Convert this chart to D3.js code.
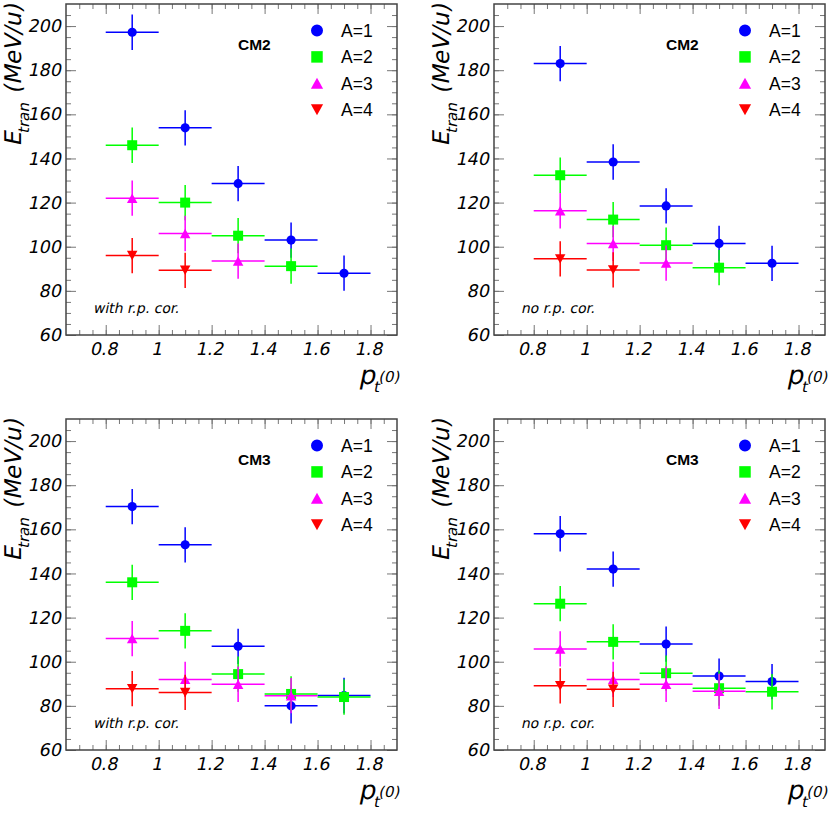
<!DOCTYPE html>
<html>
<head>
<meta charset="utf-8">
<script src="https://cdn.jsdelivr.net/npm/d3@7.9.0/dist/d3.min.js"></script>
<style>
  body { margin: 0; background: #fff; }
  svg { display: block; }
</style>
</head>
<body>
<svg id="chart" width="830" height="814"></svg>
<script>
// bins in p_t^(0), each ±0.1 wide, E_tran error ±8 MeV/u
const ptBins = [0.9, 1.1, 1.3, 1.5, 1.7];
const ptHalfWidth = 0.1;
const eError = 8;

const seriesNames = ["A=1", "A=2", "A=3", "A=4"];

// one list per A, values in MeV/u
const cm2WithCor = [
  [197.2, 153.9, 128.6, 103, 88],
  [146, 120, 105, 91.2],
  [122, 106, 93.5],
  [96, 89.3]
];
const cm2NoCor = [
  [183, 138.4, 118.5, 101.5, 92.5],
  [132.4, 112.3, 100.7, 90.5],
  [116.3, 101.5, 92.6],
  [94.5, 89.5]
];
const cm3WithCor = [
  [170.3, 153, 107, 80, 84.7],
  [136, 114, 94.4, 85.4, 84],
  [110.5, 92, 89.8, 84.6],
  [87.8, 86.1]
];
const cm3NoCor = [
  [158, 142, 108, 93.5, 91],
  [126.3, 109, 94.8, 88, 86.4],
  [105.8, 92, 89.8, 86.6],
  [89.1, 87.5]
];

const panelTitles = ["CM2", "CM2", "CM3", "CM3"];
const panelNotes = ["with r.p. cor.", "no r.p. cor.", "with r.p. cor.", "no r.p. cor."];
const xTicks = [0.8, 1, 1.2, 1.4, 1.6, 1.8];
const yTicks = [60, 80, 100, 120, 140, 160, 180, 200];

const colors = ["#0000ff", "#00ff00", "#ff00ff", "#ff0000"];

// ROOT style markers: triangles centred on their bounding box
const triUp = {
  draw(ctx, size) {
    const s = Math.sqrt(size), h = s * 0.9;
    ctx.moveTo(0, -h / 2); ctx.lineTo(s / 2, h / 2); ctx.lineTo(-s / 2, h / 2); ctx.closePath();
  }
};
const triDown = {
  draw(ctx, size) {
    const s = Math.sqrt(size), h = s * 0.9;
    ctx.moveTo(0, h / 2); ctx.lineTo(s / 2, -h / 2); ctx.lineTo(-s / 2, -h / 2); ctx.closePath();
  }
};
const markerTypes = [d3.symbolCircle, d3.symbolSquare, triUp, triDown];
const markerSizes = [66, 100, 110, 110];
const legendSizes = [113, 132, 150, 150];

const W = 331, H = 331;
const panels = [
  { data: cm2WithCor, left: 66, top: 4 },
  { data: cm2NoCor, left: 494, top: 4 },
  { data: cm3WithCor, left: 66, top: 419 },
  { data: cm3NoCor, left: 494, top: 419 }
];

const svg = d3.select("#chart");
svg.append("rect").attr("width", 830).attr("height", 814).attr("fill", "#fff");

const italicFont = "'DejaVu Sans', sans-serif";
const plainFont = "'Liberation Sans', Arial, sans-serif";
const SLANT = -12;

// fake the oblique face with a skew about the text baseline
function slant(sel) {
  sel.each(function () {
    const t = d3.select(this);
    const x0 = +t.attr("x") || 0, y0 = +t.attr("y") || 0;
    const base = t.attr("transform") || "";
    t.attr("transform", `${base} translate(${x0},${y0}) skewX(${SLANT})`)
      .attr("x", 0).attr("y", 0);
  });
}

panels.forEach((p, pi) => {
  const x = d3.scaleLinear().domain([0.65, 1.9]).range([0, W]);
  const y = d3.scaleLinear().domain([60, 210]).range([H, 0]);
  const g = svg.append("g").attr("transform", `translate(${p.left},${p.top})`);

  const minorX = d3.range(14, 38).map(i => +(i * 0.05).toFixed(2));
  const minorY = d3.range(13, 42).map(i => i * 5);
  const fmt = d => String(+d.toFixed(1));

  const styleAxis = sel => {
    sel.attr("font-size", null).attr("font-family", null);
    sel.select(".domain").remove();
    sel.selectAll("line").attr("stroke", "#777").attr("stroke-width", 1);
    sel.selectAll("text")
      .style("font-family", italicFont)
      .style("font-size", "17.5px")
      .attr("fill", "#000")
      .call(slant);
  };

  // bottom + top
  g.append("g").attr("transform", `translate(0,${H})`)
    .call(d3.axisBottom(x).tickValues(minorX).tickSize(-5).tickFormat(""))
    .call(styleAxis);
  g.append("g").attr("transform", `translate(0,${H})`)
    .call(d3.axisBottom(x).tickValues(xTicks).tickSize(-10).tickPadding(8).tickFormat(fmt))
    .call(styleAxis);
  g.append("g")
    .call(d3.axisTop(x).tickValues(minorX).tickSize(-5).tickFormat(""))
    .call(styleAxis);
  g.append("g")
    .call(d3.axisTop(x).tickValues(xTicks).tickSize(-10).tickFormat(""))
    .call(styleAxis);

  // left + right
  g.append("g")
    .call(d3.axisLeft(y).tickValues(minorY).tickSize(-5).tickFormat(""))
    .call(styleAxis);
  g.append("g")
    .call(d3.axisLeft(y).tickValues(yTicks).tickSize(-10).tickPadding(4))
    .call(styleAxis);
  g.append("g").attr("transform", `translate(${W},0)`)
    .call(d3.axisRight(y).tickValues(minorY).tickSize(-5).tickFormat(""))
    .call(styleAxis);
  g.append("g").attr("transform", `translate(${W},0)`)
    .call(d3.axisRight(y).tickValues(yTicks).tickSize(-10).tickFormat(""))
    .call(styleAxis);

  // frame
  g.append("rect").attr("width", W).attr("height", H)
    .attr("fill", "none").attr("stroke", "#444").attr("stroke-width", 1.5);

  // axis titles
  const yt = g.append("text")
    .attr("transform", `translate(-45,0) rotate(-90) skewX(${SLANT})`)
    .attr("text-anchor", "end")
    .style("font-family", italicFont)
    .style("font-size", "23px").attr("fill", "#000");
  yt.append("tspan").text("E");
  yt.append("tspan").style("font-size", "15px").attr("dy", 8).text("tran");
  yt.append("tspan").attr("dy", -8).text(" (MeV/u)");

  // sub- and superscript stacked after the p, as ROOT does
  const xt = g.append("text")
    .attr("transform", `translate(${W + 2},${H + 49}) skewX(${SLANT})`)
    .attr("text-anchor", "end")
    .style("font-family", italicFont)
    .style("font-size", "26px").attr("fill", "#000");
  xt.append("tspan").text("p");
  xt.append("tspan").style("font-size", "15px").attr("dy", 8).text("t");
  xt.append("tspan").style("font-size", "15px").attr("dx", -3).attr("dy", -10).text("(0)");

  // labels
  g.append("text").attr("x", 172).attr("y", 46)
    .style("font-family", plainFont).style("font-weight", "bold")
    .style("font-size", "15.5px").attr("fill", "#000").text(panelTitles[pi]);
  g.append("text")
    .attr("transform", `translate(27,${H - 21.7}) skewX(${SLANT})`)
    .style("font-family", italicFont)
    .style("font-size", "14px").attr("fill", "#000").text(panelNotes[pi]);

  // data: error bars then markers, series by series
  p.data.forEach((vals, si) => {
    const pts = vals.map((v, i) => ({ pt: ptBins[i], e: v }));
    const s = g.append("g");
    s.selectAll("line.h").data(pts).join("line")
      .attr("x1", d => x(d.pt - ptHalfWidth)).attr("x2", d => x(d.pt + ptHalfWidth))
      .attr("y1", d => y(d.e)).attr("y2", d => y(d.e))
      .attr("stroke", colors[si]).attr("stroke-width", 1.5);
    s.selectAll("line.v").data(pts).join("line")
      .attr("x1", d => x(d.pt)).attr("x2", d => x(d.pt))
      .attr("y1", d => y(d.e - eError)).attr("y2", d => y(d.e + eError))
      .attr("stroke", colors[si]).attr("stroke-width", 1.5);
    s.selectAll("path").data(pts).join("path")
      .attr("transform", d => `translate(${x(d.pt)},${y(d.e)})`)
      .attr("d", d3.symbol().type(markerTypes[si]).size(markerSizes[si]))
      .attr("fill", colors[si]);
  });

  // legend
  const lg = g.append("g").attr("transform", `translate(${W - 80},26.5)`);
  seriesNames.forEach((name, si) => {
    const row = lg.append("g").attr("transform", `translate(0,${si * 26.4})`);
    row.append("path")
      .attr("d", d3.symbol().type(markerTypes[si]).size(legendSizes[si]))
      .attr("fill", colors[si]);
    row.append("text").attr("x", 24).attr("dy", "0.36em")
      .style("font-family", plainFont).style("font-size", "17.5px")
      .attr("fill", "#000").text(name);
  });
});
</script>
</body>
</html>
